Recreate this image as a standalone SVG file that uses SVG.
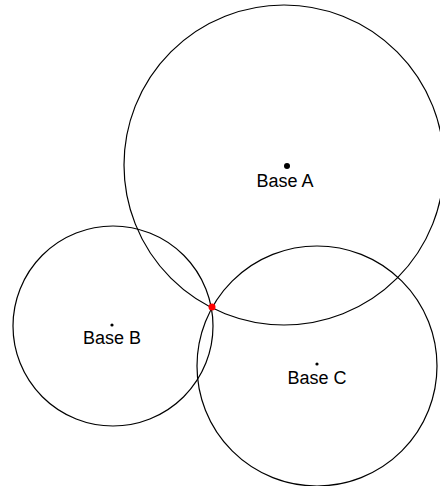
<svg xmlns="http://www.w3.org/2000/svg" width="440" height="486" viewBox="0 0 440 486">
<style>
.ring{fill:none;stroke:#000;stroke-width:1.2}
.lbl{font-family:"Liberation Sans",Arial,sans-serif;font-size:18px;fill:#000;text-anchor:middle}
</style>
<rect width="440" height="486" fill="#fff"/>
<g id="baseA">
<circle class="ring" cx="284" cy="165" r="160"/>
<circle cx="287" cy="166" r="3" fill="#000"/>
<text class="lbl" x="285" y="187">Base A</text>
</g>
<g id="baseB">
<circle class="ring" cx="113" cy="326" r="100"/>
<circle cx="112" cy="325" r="1.6" fill="#000"/>
<text class="lbl" x="112" y="344">Base B</text>
</g>
<g id="baseC">
<circle class="ring" cx="317" cy="366" r="120"/>
<circle cx="317" cy="364" r="1.6" fill="#000"/>
<text class="lbl" x="317" y="384">Base C</text>
</g>
<g id="intersection">
<circle cx="212" cy="307" r="3.5" fill="#f00"/>
</g>
<g id="connectors"></g>
</svg>
